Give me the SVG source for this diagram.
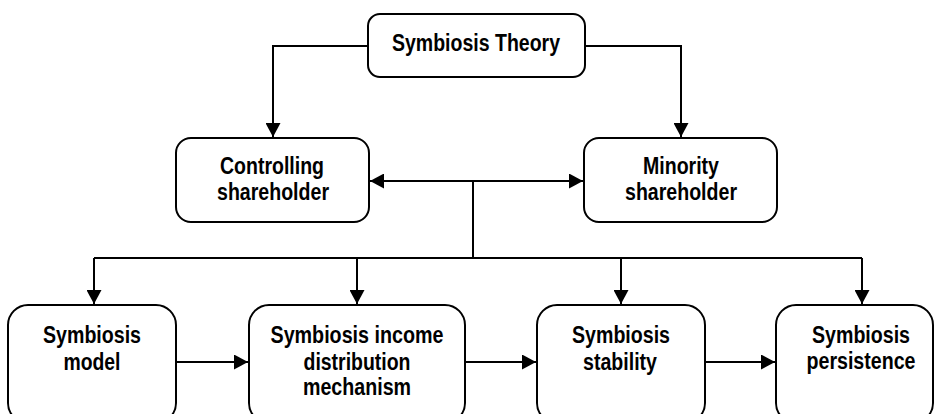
<svg xmlns="http://www.w3.org/2000/svg" width="934" height="414" viewBox="0 0 934 414">
<style>
  .box { fill: #ffffff; stroke: #000000; stroke-width: 2; }
  .lbl { font-family: "Liberation Sans", Arial, sans-serif; font-weight: bold; font-size: 23px; fill: #000000; text-anchor: middle; }
  .con { fill: none; stroke: #000000; stroke-width: 2; }
</style>
<defs>
  <marker id="arr" markerUnits="userSpaceOnUse" markerWidth="15" markerHeight="15" refX="14" refY="7.5" orient="auto-start-reverse">
    <path d="M0,0 L14,7.5 L0,15 z" fill="#000000"/>
  </marker>
</defs>
<rect width="934" height="414" fill="#ffffff"/>
<g id="connectors">
  <path class="con" d="M368,46 H273 V137" marker-end="url(#arr)"/>
  <path class="con" d="M585,46 H681 V137" marker-end="url(#arr)"/>
  <path class="con" d="M370,181 H583" marker-start="url(#arr)" marker-end="url(#arr)"/>
  <path class="con" d="M473,181 V258"/>
  <path class="con" d="M94,258 H862"/>
  <path class="con" d="M94,258 V304" marker-end="url(#arr)"/>
  <path class="con" d="M357,258 V304" marker-end="url(#arr)"/>
  <path class="con" d="M621,258 V304" marker-end="url(#arr)"/>
  <path class="con" d="M862,258 V304" marker-end="url(#arr)"/>
  <path class="con" d="M176,362 H248" marker-end="url(#arr)"/>
  <path class="con" d="M465,362 H536" marker-end="url(#arr)"/>
  <path class="con" d="M705,362 H775" marker-end="url(#arr)"/>
</g>
<g id="symbiosis-theory">
  <rect class="box" x="368" y="14" width="217" height="63" rx="12"/>
  <text class="lbl" x="476" y="51" textLength="168" lengthAdjust="spacingAndGlyphs">Symbiosis Theory</text>
</g>
<g id="controlling-shareholder">
  <rect class="box" x="176" y="138" width="193" height="84" rx="15"/>
  <text class="lbl" x="272" y="174" textLength="104" lengthAdjust="spacingAndGlyphs">Controlling</text>
  <text class="lbl" x="273" y="200" textLength="112" lengthAdjust="spacingAndGlyphs">shareholder</text>
</g>
<g id="minority-shareholder">
  <rect class="box" x="584" y="138" width="193" height="84" rx="15"/>
  <text class="lbl" x="681" y="174" textLength="76" lengthAdjust="spacingAndGlyphs">Minority</text>
  <text class="lbl" x="681" y="200" textLength="112" lengthAdjust="spacingAndGlyphs">shareholder</text>
</g>
<g id="symbiosis-model">
  <rect class="box" x="8" y="305" width="168" height="118" rx="20"/>
  <text class="lbl" x="92" y="343" textLength="98" lengthAdjust="spacingAndGlyphs">Symbiosis</text>
  <text class="lbl" x="92" y="370" textLength="57" lengthAdjust="spacingAndGlyphs">model</text>
</g>
<g id="symbiosis-income">
  <rect class="box" x="249" y="305" width="216" height="118" rx="20"/>
  <text class="lbl" x="357" y="343" textLength="173" lengthAdjust="spacingAndGlyphs">Symbiosis income</text>
  <text class="lbl" x="357" y="370" textLength="107" lengthAdjust="spacingAndGlyphs">distribution</text>
  <text class="lbl" x="357" y="395" textLength="108" lengthAdjust="spacingAndGlyphs">mechanism</text>
</g>
<g id="symbiosis-stability">
  <rect class="box" x="537" y="305" width="168" height="118" rx="20"/>
  <text class="lbl" x="621" y="343" textLength="98" lengthAdjust="spacingAndGlyphs">Symbiosis</text>
  <text class="lbl" x="620" y="370" textLength="74" lengthAdjust="spacingAndGlyphs">stability</text>
</g>
<g id="symbiosis-persistence">
  <rect class="box" x="776" y="305" width="157" height="118" rx="20"/>
  <text class="lbl" x="861" y="343" textLength="98" lengthAdjust="spacingAndGlyphs">Symbiosis</text>
  <text class="lbl" x="861" y="369" textLength="109" lengthAdjust="spacingAndGlyphs">persistence</text>
</g>
</svg>
